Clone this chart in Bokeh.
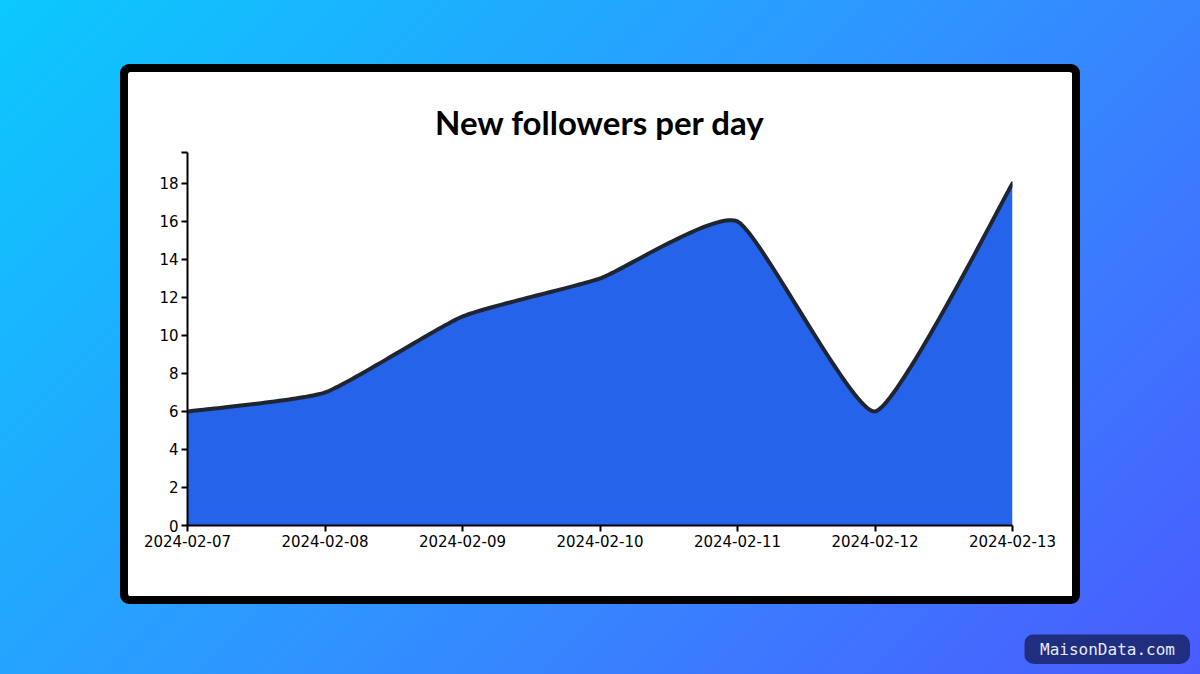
import numpy as np
from bokeh.plotting import figure
from bokeh.layouts import column, row
from bokeh.models import FixedTicker, Range1d, Spacer
from bokeh.core.properties import value
from bokeh.embed import file_html
from bokeh.resources import INLINE

# ---- data ----
dates = ["2024-02-07", "2024-02-08", "2024-02-09", "2024-02-10",
         "2024-02-11", "2024-02-12", "2024-02-13"]
followers = [6, 7, 11, 13, 16, 6, 18]
y_ticks = [0, 2, 4, 6, 8, 10, 12, 14, 16, 18]
y_top = 19.63
title_text = "New followers per day"
brand = "MaisonData.com"


def rounded_spline(xs, ys, k=0.08, steps=40):
    """Cardinal-style spline with small tangents: nearly straight segments, rounded corners."""
    P = np.column_stack([np.asarray(xs, float), np.asarray(ys, float)])
    n = len(P)
    out = [P[0]]
    u = np.linspace(0, 1, steps + 1)[1:]
    for i in range(n - 1):
        prev = P[i - 1] if i > 0 else P[i]
        nxt2 = P[i + 2] if i + 2 < n else P[i + 1]
        c1 = P[i] + k * (P[i + 1] - prev)
        c2 = P[i + 1] - k * (nxt2 - P[i])
        for uu in u:
            out.append((1 - uu) ** 3 * P[i] + 3 * (1 - uu) ** 2 * uu * c1
                       + 3 * (1 - uu) * uu ** 2 * c2 + uu ** 3 * P[i + 1])
    out = np.array(out)
    return out[:, 0], out[:, 1]


xi = list(range(len(dates)))
cx, cy = rounded_spline(xi, followers)

# card figure (944x524 inner, 8px black ring via box-shadow)
PW, PH = 944, 524
p = figure(width=PW, height=PH, output_backend="svg", toolbar_location=None,
           x_range=Range1d(0, len(dates) - 1), y_range=Range1d(0, y_top),
           min_border_left=59, min_border_right=60,
           min_border_top=80, min_border_bottom=71)
p.styles = {"box-shadow": "0 0 0 8px #000000", "border-radius": "3px",
            "background": "white"}
p.border_fill_color = "white"
p.background_fill_color = "white"
p.outline_line_color = None
p.grid.visible = False

p.title.text = title_text
p.title.align = "center"
p.title.text_font = "Lato"
p.title.text_font_style = "bold"
p.title.text_font_size = "33px"
p.title.text_color = "black"
p.title.standoff = 22

p.varea(x=cx, y1=0, y2=cy, fill_color="#2563eb")
p.line(x=cx, y=cy, line_color="#1f2632", line_width=4, line_join="round", line_cap="round")

xa = p.xaxis[0]
xa.ticker = FixedTicker(ticks=xi)
xa.major_label_overrides = {i: d for i, d in zip(xi, dates)}
ya = p.yaxis[0]
ya.ticker = FixedTicker(ticks=y_ticks + [y_top])
ya.major_label_overrides = {y_top: ""}
for ax in (xa, ya):
    ax.axis_line_color = "black"
    ax.axis_line_width = 2
    ax.major_tick_line_color = "black"
    ax.major_tick_line_width = 2
    ax.major_tick_in = 0
    ax.major_tick_out = 6
    ax.minor_tick_line_color = None
    ax.major_label_text_font = "DejaVu Sans"
    ax.major_label_text_font_size = "15px"
    ax.major_label_text_color = "black"
    ax.major_label_standoff = 3

# watermark pill
wm = figure(width=166, height=30, output_backend="svg", toolbar_location=None,
            x_range=Range1d(0, 1), y_range=Range1d(0, 1),
            x_axis_type=None, y_axis_type=None, min_border=0)
wm.styles = {"border-radius": "10px", "overflow": "hidden"}
wm.background_fill_color = "#1f2e7e"
wm.border_fill_color = "#1f2e7e"
wm.outline_line_color = None
wm.grid.visible = False
wm.text(x=[0.5], y=[0.5], text=[brand], text_align="center", text_baseline="middle",
        text_font=value("DejaVu Sans Mono"), text_font_size="16px", text_color="#e6eaff")

root = column(
    Spacer(width=1200, height=72),
    row(Spacer(width=128, height=PH), p),
    Spacer(width=1200, height=38),
    row(Spacer(width=1024, height=30), wm),
    width=1200, height=674,
    styles={"background": "linear-gradient(135deg, #0bc9fd 0%, #2f95ff 50%, #4a5bfe 100%)"},
)

open("out.html", "w").write(file_html(root, INLINE))
